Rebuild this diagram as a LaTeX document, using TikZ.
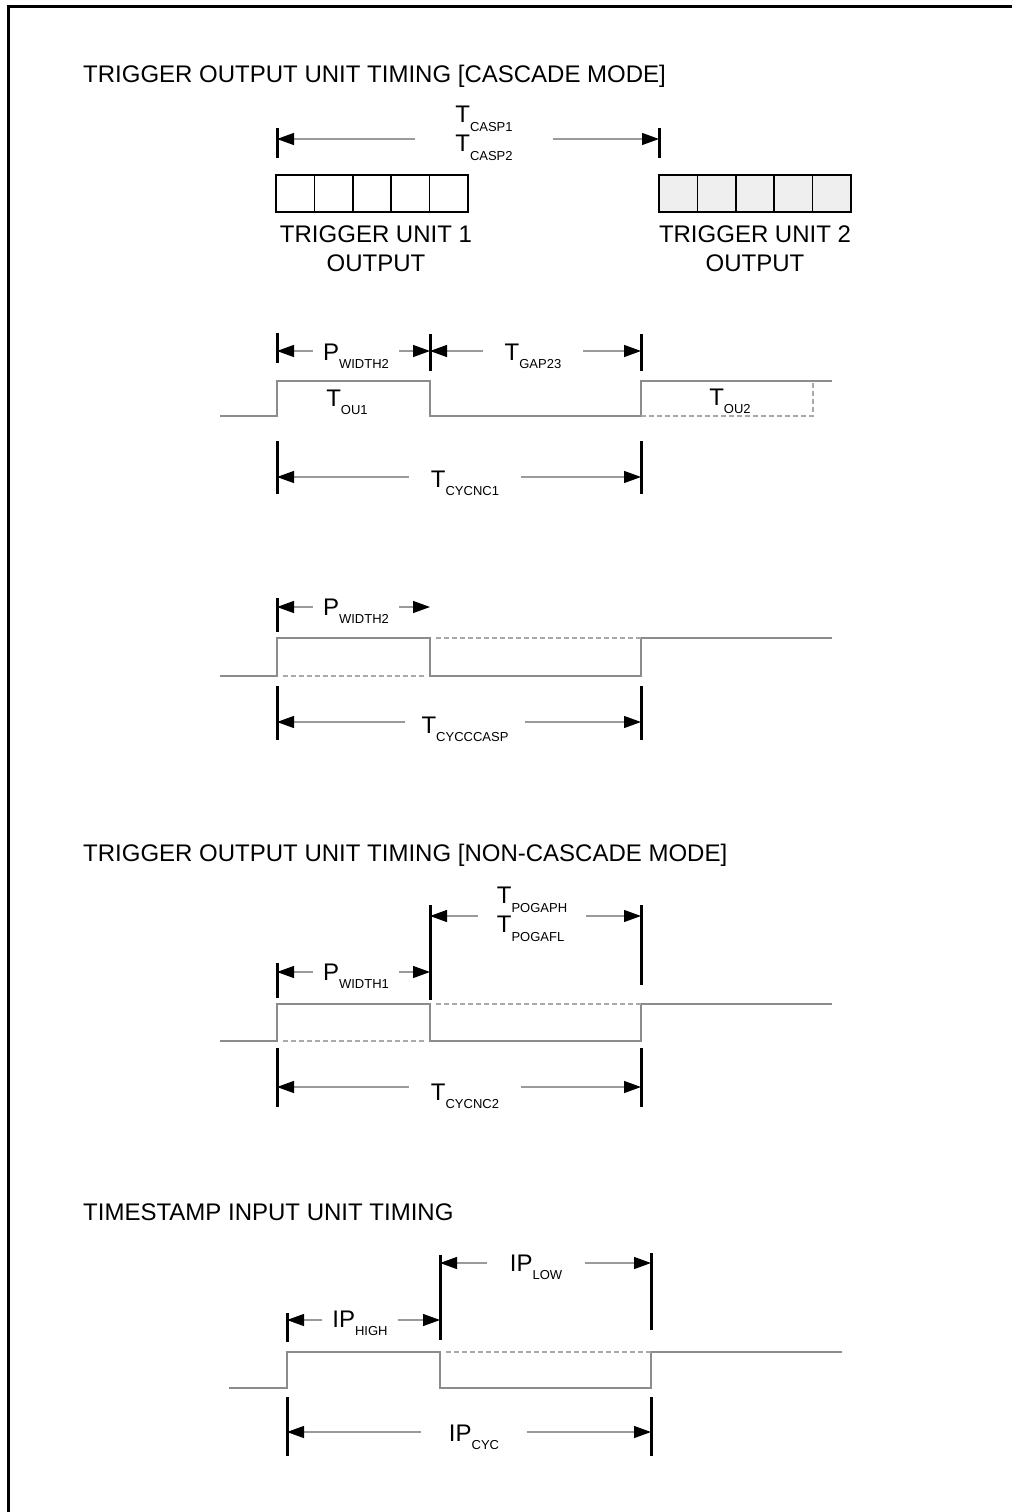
\documentclass[tikz,border=0pt]{standalone}
\usepackage{fontspec}
\setmainfont{Liberation Sans}
\usetikzlibrary{arrows.meta,positioning,calc}
\definecolor{wave}{HTML}{8C8C8C}
\definecolor{shaft}{HTML}{9A9A9A}
\definecolor{cellgray}{HTML}{EFEFEF}
\newcommand{\lab}[2]{#1\raisebox{-8.7pt}{\fontsize{13}{13}\selectfont #2}}
\tikzset{
  title/.style={anchor=base west, inner sep=0pt, font=\fontsize{24}{28}\selectfont},
  lbl/.style={inner sep=0pt, inner xsep=10pt, font=\fontsize{24}{29}\selectfont},
  unitlbl/.style={inner sep=0pt, align=center, font=\fontsize{24}{29}\selectfont},
  dimbar/.style={line width=3pt, black},
  dimarr/.style={-{Triangle[length=17pt,width=12pt,color=black]}, shaft, line width=1.2pt},
  sig/.style={wave, line width=1.5pt},
  sigdash/.style={wave!75, line width=1.5pt, dash pattern=on 5pt off 3pt},
  cell/.style={draw, line width=1.5pt, minimum width=38.4pt, minimum height=37pt, inner sep=0pt}
}
\begin{document}
\begin{tikzpicture}[x=1pt,y=-1pt]
  \useasboundingbox (0,0) rectangle (1012,1512);
  % frame
  \draw[line width=3pt] (8,1512) -- (8,7) -- (1012,7);

  % ---------------- cascade mode
  \node[title] (ttl1) at (83,82) {TRIGGER OUTPUT UNIT TIMING [CASCADE MODE]};

  % trigger unit outputs
  \foreach \i in {0,...,4} {
    \node[cell] (ua\i) at (295.2+38.4*\i,193.5) {};
    \node[cell,fill=cellgray] (ub\i) at (678.2+38.4*\i,193.5) {};
  }
  \node[unitlbl,below=13pt of ua2,xshift=4pt] (ualbl) {TRIGGER UNIT 1\\OUTPUT};
  \node[unitlbl,below=13pt of ub2] (ublbl) {TRIGGER UNIT 2\\OUTPUT};

  % T_CASP
  \coordinate (caspL) at (277,139);
  \coordinate (caspR) at (659,139);
  \node[lbl,anchor=north,align=left,inner xsep=40pt] (casp) at (484,106)
    {\lab{T}{CASP1}\\\lab{T}{CASP2}};
  \draw[dimarr] (casp.west |- caspL) -- (caspL);
  \draw[dimarr] (casp.east |- caspR) -- (caspR);

  % waveform 1
  \draw[sig] (220,416) -- (277,416) -- (277,381) -- (430,381) -- (430,416)
    -- (641,416) -- (641,381) -- (832,381);
  \draw[sigdash] (641,416) -- (813,416) -- (813,381);
  \node[lbl,anchor=base] (tou1) at (347,406) {\lab{T}{OU1}};
  \node[lbl,anchor=base] (tou2) at (730,405) {\lab{T}{OU2}};

  \coordinate (pwaL) at (277,351);
  \coordinate (pwaR) at (430,351);
  \coordinate (gapR) at (641,351);
  \node[lbl,anchor=base] (pwa) at (356,360) {\lab{P}{WIDTH2}};
  \node[lbl,anchor=base,inner xsep=22pt] (gap) at (533,360) {\lab{T}{GAP23}};
  \draw[dimarr] (pwa.west |- pwaL) -- (pwaL);
  \draw[dimarr] (pwa.east |- pwaR) -- (pwaR);
  \draw[dimarr] (gap.west |- pwaR) -- (pwaR);
  \draw[dimarr] (gap.east |- gapR) -- (gapR);

  \coordinate (cyaL) at (277,477);
  \coordinate (cyaR) at (641,477);
  \node[lbl,anchor=base,inner xsep=22pt] (cya) at (465,487) {\lab{T}{CYCNC1}};
  \draw[dimarr] (cya.west |- cyaL) -- (cyaL);
  \draw[dimarr] (cya.east |- cyaR) -- (cyaR);

  % waveform 2
  \draw[sig] (220,676) -- (277,676) -- (277,638) -- (430,638) -- (430,676)
    -- (641,676) -- (641,638) -- (832,638);
  \draw[sigdash] (283,676) -- (425,676);
  \draw[sigdash] (436,638) -- (641,638);

  \coordinate (pwbL) at (277,607);
  \coordinate (pwbR) at (430,607);
  \node[lbl,anchor=base] (pwb) at (356,615) {\lab{P}{WIDTH2}};
  \draw[dimarr] (pwb.west |- pwbL) -- (pwbL);
  \draw[dimarr] (pwb.east |- pwbR) -- (pwbR);

  \coordinate (cybL) at (277,722);
  \coordinate (cybR) at (641,722);
  \node[lbl,anchor=base,inner xsep=16pt] (cyb) at (465,733) {\lab{T}{CYCCCASP}};
  \draw[dimarr] (cyb.west |- cybL) -- (cybL);
  \draw[dimarr] (cyb.east |- cybR) -- (cybR);

  % ---------------- non-cascade mode
  \node[title] (ttl2) at (83,861) {TRIGGER OUTPUT UNIT TIMING [NON-CASCADE MODE]};

  \coordinate (pogL) at (430,916);
  \coordinate (pogR) at (641,916);
  \node[lbl,anchor=north,align=left,inner xsep=19pt] (pog) at (532,887)
    {\lab{T}{POGAPH}\\\lab{T}{POGAFL}};
  \draw[dimarr] (pog.west |- pogL) -- (pogL);
  \draw[dimarr] (pog.east |- pogR) -- (pogR);

  \coordinate (pwcL) at (277,972);
  \coordinate (pwcR) at (430,972);
  \node[lbl,anchor=base] (pwc) at (356,980) {\lab{P}{WIDTH1}};
  \draw[dimarr] (pwc.west |- pwcL) -- (pwcL);
  \draw[dimarr] (pwc.east |- pwcR) -- (pwcR);

  % waveform 3
  \draw[sig] (220,1041) -- (277,1041) -- (277,1004) -- (430,1004) -- (430,1041)
    -- (641,1041) -- (641,1004) -- (832,1004);
  \draw[sigdash] (283,1041) -- (425,1041);
  \draw[sigdash] (436,1004) -- (641,1004);

  \coordinate (cycL) at (277,1087);
  \coordinate (cycR) at (641,1087);
  \node[lbl,anchor=base,inner xsep=22pt] (cyc) at (465,1100) {\lab{T}{CYCNC2}};
  \draw[dimarr] (cyc.west |- cycL) -- (cycL);
  \draw[dimarr] (cyc.east |- cycR) -- (cycR);

  % ---------------- timestamp input
  \node[title] (ttl3) at (83,1220) {TIMESTAMP INPUT UNIT TIMING};

  \coordinate (lowL) at (440,1263);
  \coordinate (lowR) at (651,1263);
  \node[lbl,anchor=base,inner xsep=23pt] (low) at (536,1271) {\lab{IP}{LOW}};
  \draw[dimarr] (low.west |- lowL) -- (lowL);
  \draw[dimarr] (low.east |- lowR) -- (lowR);

  \coordinate (highL) at (287,1320);
  \coordinate (highR) at (440,1320);
  \node[lbl,anchor=base] (high) at (360,1327) {\lab{IP}{HIGH}};
  \draw[dimarr] (high.west |- highL) -- (highL);
  \draw[dimarr] (high.east |- highR) -- (highR);

  % waveform 4
  \draw[sig] (229,1388) -- (287,1388) -- (287,1352) -- (440,1352) -- (440,1388)
    -- (651,1388) -- (651,1352) -- (842,1352);
  \draw[sigdash] (446,1352) -- (651,1352);

  \coordinate (ipcL) at (287,1432);
  \coordinate (ipcR) at (651,1432);
  \node[lbl,anchor=base,inner xsep=28pt] (ipc) at (474,1441) {\lab{IP}{CYC}};
  \draw[dimarr] (ipc.west |- ipcL) -- (ipcL);
  \draw[dimarr] (ipc.east |- ipcR) -- (ipcR);

  % limit bars
  \foreach \x/\a/\b in {277/128/158, 659/128/158,
      277/333/363, 430/334/371, 641/334/371, 277/441/494, 641/441/494,
      277/598/632, 277/686/740, 641/686/740,
      430/905/1000, 641/905/985, 277/963/998, 277/1048/1107, 641/1048/1107,
      440/1255/1340, 651/1253/1330, 287/1313/1342, 287/1397/1456, 651/1397/1456}
    \draw[dimbar] (\x,\a) -- (\x,\b);
\end{tikzpicture}
\end{document}
